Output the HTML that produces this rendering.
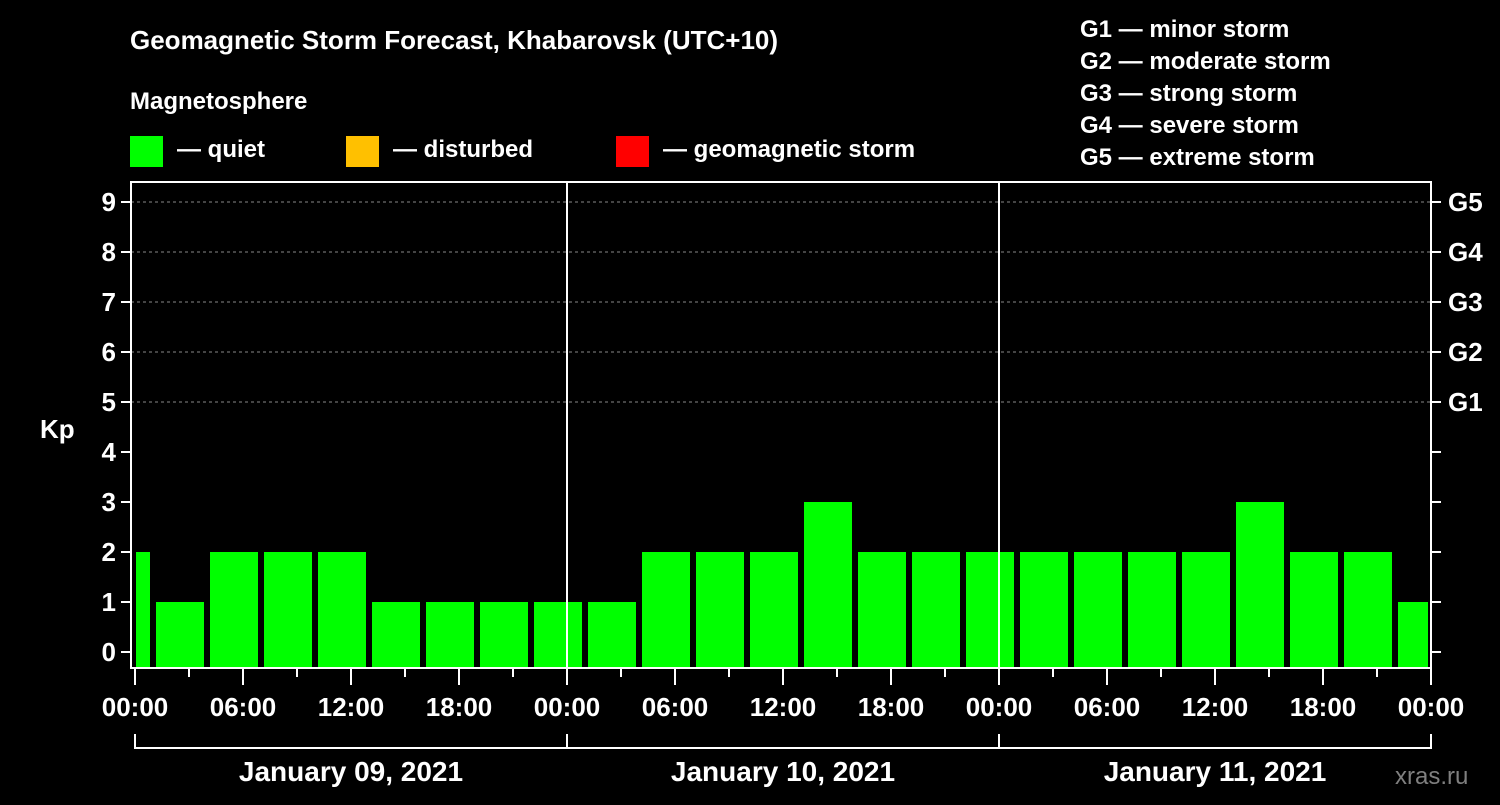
<!DOCTYPE html>
<html><head><meta charset="utf-8"><style>
body{margin:0;background:#000;width:1500px;height:800px;overflow:hidden}
svg text{font-family:"Liberation Sans",Arial,sans-serif;font-weight:bold;fill:#fff}
</style></head><body>
<svg id="c" width="1500" height="800">
<rect width="1500" height="800" fill="#000"/>
<text x="130" y="49" font-size="26">Geomagnetic Storm Forecast, Khabarovsk (UTC+10)</text>
<text x="130" y="109" font-size="24">Magnetosphere</text>
<g><rect x="130" y="136" width="33" height="31" fill="#00ff00"/><text x="177" y="157" font-size="24">— quiet</text></g>
<g><rect x="346" y="136" width="33" height="31" fill="#ffc000"/><text x="393" y="157" font-size="24">— disturbed</text></g>
<g><rect x="616" y="136" width="33" height="31" fill="#ff0000"/><text x="663" y="157" font-size="24">— geomagnetic storm</text></g>
<g font-size="24">
<text x="1080" y="37">G1 — minor storm</text>
<text x="1080" y="69">G2 — moderate storm</text>
<text x="1080" y="101">G3 — strong storm</text>
<text x="1080" y="133">G4 — severe storm</text>
<text x="1080" y="165">G5 — extreme storm</text>
</g>
<text x="40" y="438" font-size="26">Kp</text>
<text x="1395" y="784" font-size="24" fill="#888" style="fill:#7f7f7f;font-weight:normal">xras.ru</text>
<g id="plot"></g>
</svg>
<script>
const kpValues=[2,1,2,2,2,1,1,1,1,1,2,2,2,3,2,2,2,2,2,2,2,3,2,2,1];
const slotStartHours=[-2,1,4,7,10,13,16,19,22,25,28,31,34,37,40,43,46,49,52,55,58,61,64,67,70];
const dayLabels=["January 09, 2021","January 10, 2021","January 11, 2021"];
const hourTickLabels=["00:00","06:00","12:00","18:00"];
const stormLabels=["G1","G2","G3","G4","G5"];
const ns="http://www.w3.org/2000/svg";
const g=document.getElementById('plot');
const X0=135,PXH=18,L=131,R=1431,T=182,B=668;
const xs=h=>X0+h*PXH, ys=k=>652-50*k;
function mk(t,a){const e=document.createElementNS(ns,t);for(const k in a)e.setAttribute(k,a[k]);g.appendChild(e);return e;}
// grid
for(let k=5;k<=9;k++){const e=mk('line',{x1:L,x2:R,y1:ys(k),y2:ys(k),stroke:'#888','stroke-dasharray':'3,3','stroke-width':1});

}
// bars
kpValues.forEach((v,i)=>{let a=xs(slotStartHours[i])+3,b=xs(slotStartHours[i]+3)-3;a=Math.max(a,L+5);b=Math.min(b,R-3);
const e=mk('rect',{x:a,y:ys(v),width:b-a,height:B-ys(v),fill:v>=5?'#ff0000':v>=4?'#ffc000':'#00ff00'});

});
// day separators
for(let d=1;d<3;d++){const e=mk('line',{x1:xs(24*d),x2:xs(24*d),y1:T,y2:B,stroke:'#fff','stroke-width':2});

}
// frame
const fr=mk('rect',{x:L,y:T,width:R-L,height:B-T,fill:'none',stroke:'#fff','stroke-width':2});


// y ticks
for(let k=0;k<=9;k++){mk('line',{x1:L-10,x2:L,y1:ys(k),y2:ys(k),stroke:'#fff','stroke-width':2});
mk('line',{x1:R,x2:R+10,y1:ys(k),y2:ys(k),stroke:'#fff','stroke-width':2});
const t=mk('text',{x:116,y:ys(k)+9,'font-size':26,'text-anchor':'end'});t.textContent=k;

}
stormLabels.forEach((s,i)=>{const t=mk('text',{x:1448,y:ys(5+i)+9,'font-size':26});t.textContent=s;

});
// x ticks
for(let h=0;h<=72;h+=3){const maj=h%6==0;mk('line',{x1:xs(h),x2:xs(h),y1:B,y2:B+(maj?17:9),stroke:'#fff','stroke-width':2});
if(maj){const t=mk('text',{x:xs(h),y:716,'font-size':26,'text-anchor':'middle'});t.textContent=hourTickLabels[(h/6)%4];

}}
// day bracket
mk('line',{x1:xs(0),x2:xs(72),y1:748,y2:748,stroke:'#fff','stroke-width':2});
for(let d=0;d<=3;d++)mk('line',{x1:xs(24*d),x2:xs(24*d),y1:734,y2:749,stroke:'#fff','stroke-width':2});
dayLabels.forEach((s,d)=>{const t=mk('text',{x:xs(24*d+12),y:781,'font-size':28,'text-anchor':'middle'});t.textContent=s;

});
</script>
</body></html>
